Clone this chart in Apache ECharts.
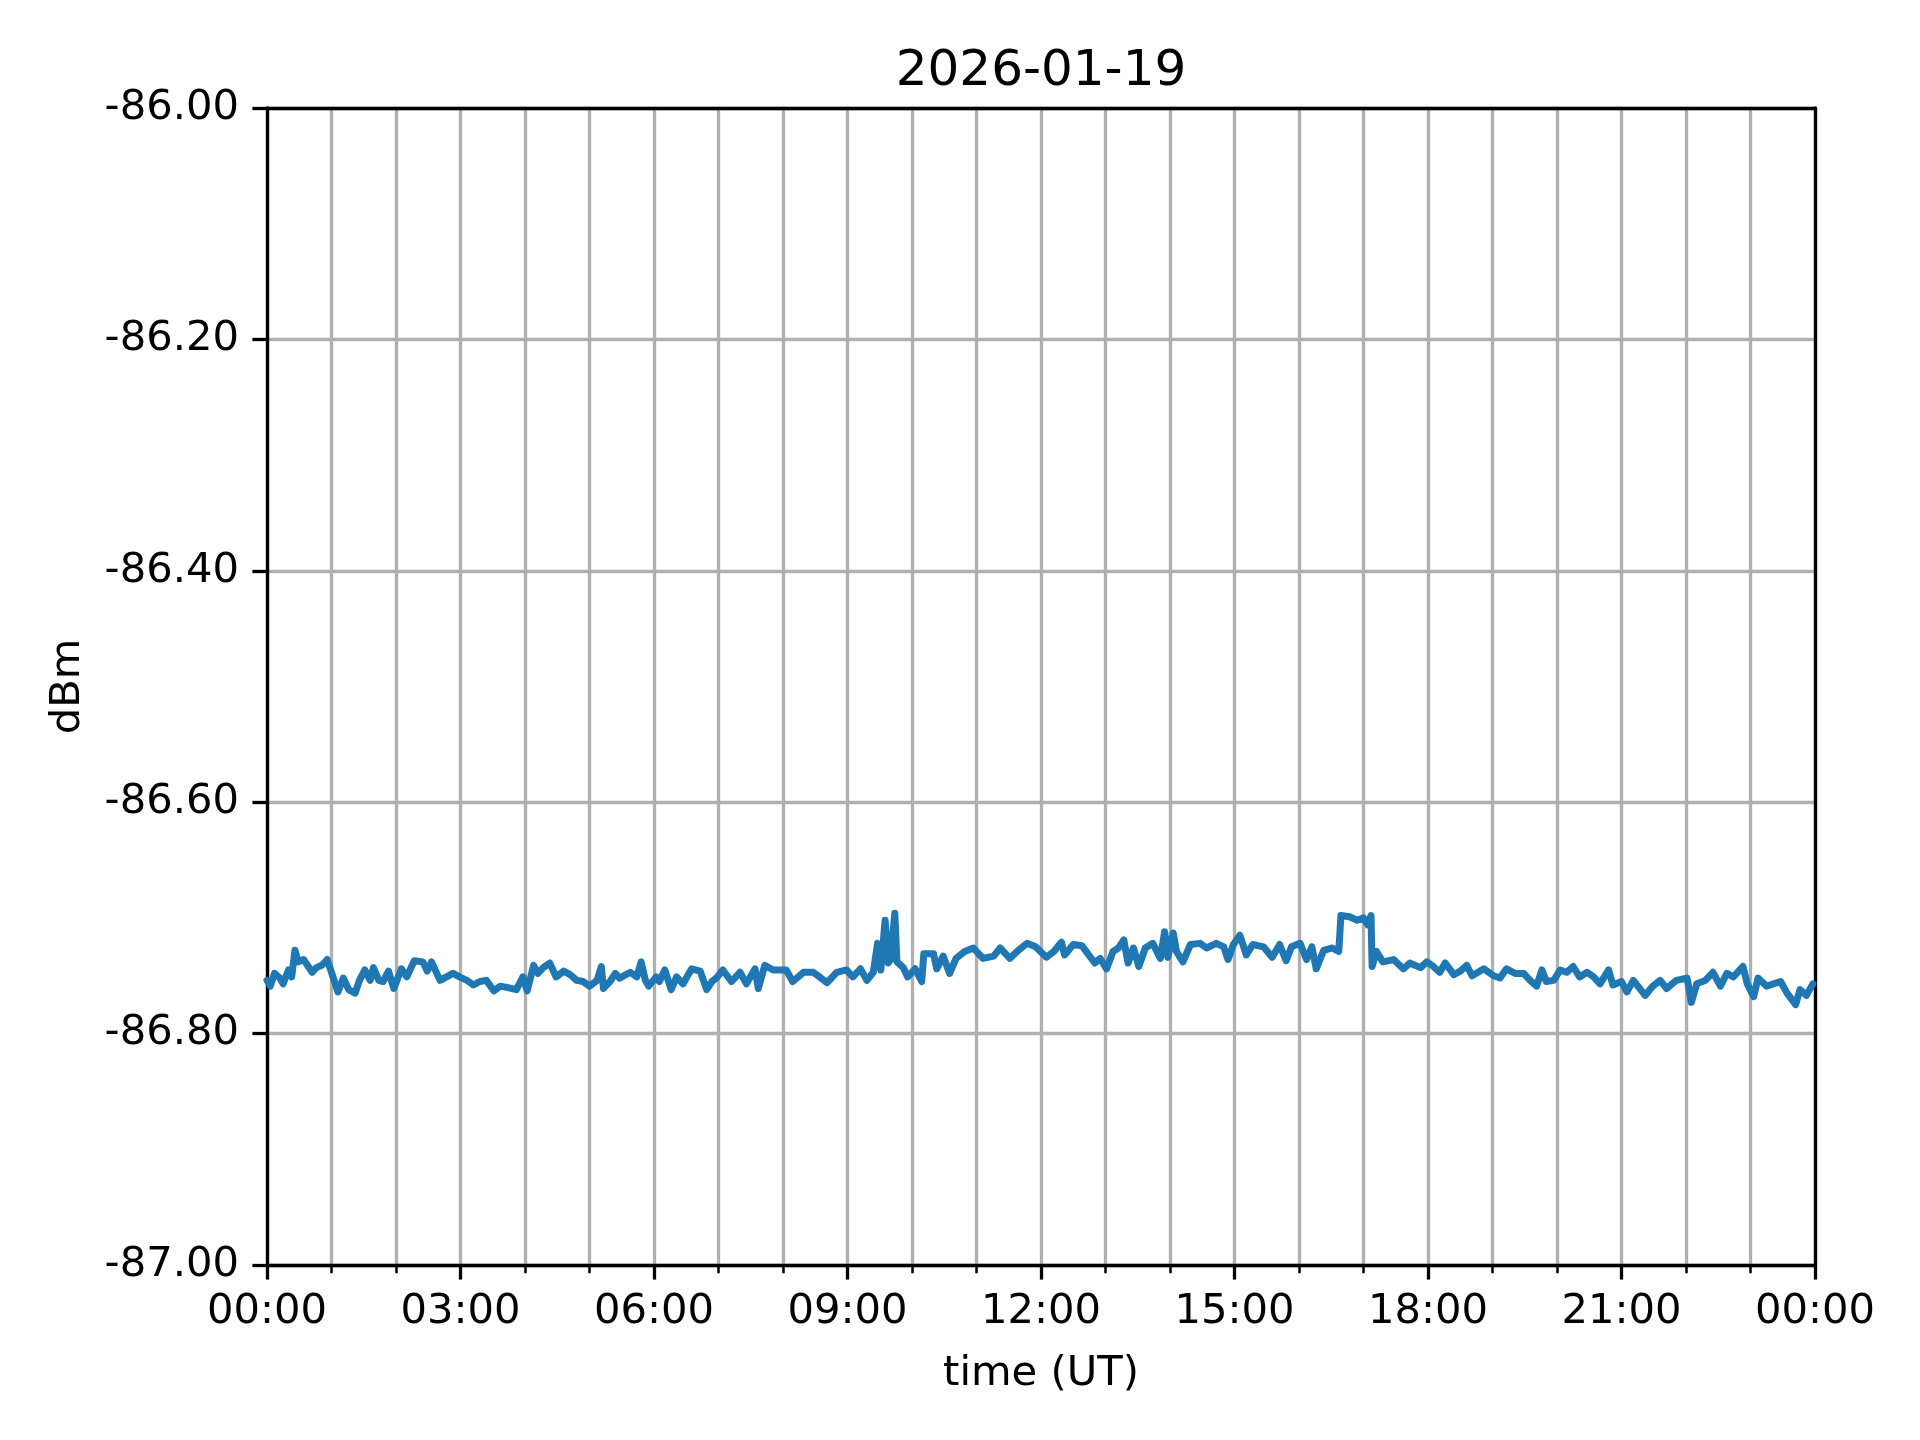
<!DOCTYPE html>
<html>
<head>
<meta charset="utf-8">
<script src="https://cdn.jsdelivr.net/npm/echarts@6/dist/echarts.min.js"></script>
<style>html,body{margin:0;padding:0;background:#fff}#c{width:1920px;height:1440px}</style>
</head>
<body>
<div id="c"></div>
<script>
const titleText = "2026-01-19";
const xName = "time (UT)";
const yName = "dBm";
const yTicks = [-87.0, -86.8, -86.6, -86.4, -86.2, -86.0];
const xTickLabels = ["00:00","03:00","06:00","09:00","12:00","15:00","18:00","21:00","00:00"];

const times = [
"00:00","00:03","00:07","00:12","00:15","00:20","00:23","00:26","00:29","00:34","00:42","00:46","00:51","00:56",
"01:00","01:06","01:11","01:16","01:22","01:26","01:31","01:36","01:39","01:44","01:48","01:53","01:58",
"02:05","02:10","02:17","02:25","02:29","02:33","02:41","02:47","02:53","02:59",
"03:06","03:12","03:18","03:24","03:31","03:37","03:43","03:52","03:58",
"04:02","04:08","04:12","04:17","04:23","04:29","04:36","04:42","04:48","04:54",
"05:00","05:07","05:11","05:13","05:19","05:24","05:28","05:38","05:44","05:48","05:52","05:55",
"06:02","06:05","06:10","06:16","06:21","06:27","06:35","06:43","06:49","06:54","06:58",
"07:04","07:12","07:20","07:26","07:34","07:37","07:43","07:51",
"08:03","08:09","08:19","08:28","08:34","08:41","08:50","08:59",
"09:05","09:12","09:18","09:24","09:28","09:31","09:35","09:38","09:40","09:44","09:46","09:52","09:56",
"10:03","10:09","10:11","10:20","10:23","10:29","10:35","10:41","10:49","10:57",
"11:06","11:16","11:22","11:31","11:39","11:47","11:55",
"12:05","12:12","12:19","12:22","12:30","12:38","12:46","12:50","12:55",
"13:01","13:07","13:12","13:17","13:21","13:26","13:31","13:37","13:44","13:51","13:55","13:58",
"14:03","14:06","14:12","14:19","14:28","14:34","14:43","14:50","14:54","14:59",
"15:05","15:11","15:17","15:27","15:35","15:42","15:48","15:53",
"16:01","16:07","16:12","16:16","16:23","16:31","16:37","16:39","16:47","16:54",
"17:00","17:04","17:07","17:08","17:12","17:18","17:28","17:37","17:43","17:53","17:59",
"18:05","18:11","18:16","18:24","18:30","18:36","18:41","18:52",
"19:01","19:07","19:13","19:21","19:29","19:35","19:41","19:46","19:50","19:57",
"20:03","20:09","20:15","20:21","20:28","20:34","20:40","20:48","20:52",
"21:00","21:05","21:11","21:22","21:29","21:36","21:42","21:51",
"22:01","22:05","22:10","22:18","22:25","22:32","22:38","22:44","22:53","22:57",
"23:03","23:07","23:15","23:28","23:34","23:42","23:46","23:52","23:58"
];
const dbm = [
-86.754,-86.759,-86.748,-86.752,-86.757,-86.745,-86.751,-86.728,-86.738,-86.736,-86.747,-86.743,-86.741,-86.736,
-86.747,-86.764,-86.752,-86.762,-86.765,-86.754,-86.745,-86.754,-86.743,-86.754,-86.755,-86.746,-86.761,
-86.744,-86.751,-86.737,-86.738,-86.746,-86.738,-86.754,-86.751,-86.748,-86.751,
-86.754,-86.758,-86.755,-86.754,-86.763,-86.759,-86.760,-86.762,-86.751,
-86.763,-86.741,-86.748,-86.743,-86.739,-86.751,-86.746,-86.749,-86.754,-86.755,
-86.759,-86.754,-86.742,-86.761,-86.755,-86.748,-86.752,-86.747,-86.751,-86.738,-86.754,-86.759,
-86.751,-86.755,-86.745,-86.762,-86.751,-86.757,-86.744,-86.746,-86.762,-86.755,-86.752,
-86.745,-86.755,-86.747,-86.757,-86.744,-86.761,-86.741,-86.745,
-86.745,-86.755,-86.747,-86.747,-86.751,-86.756,-86.747,-86.745,
-86.751,-86.744,-86.754,-86.747,-86.722,-86.745,-86.702,-86.739,-86.736,-86.696,-86.738,-86.743,-86.751,
-86.744,-86.755,-86.731,-86.731,-86.744,-86.733,-86.748,-86.735,-86.729,-86.726,
-86.735,-86.733,-86.726,-86.735,-86.728,-86.722,-86.725,
-86.734,-86.729,-86.721,-86.732,-86.723,-86.724,-86.734,-86.739,-86.735,
-86.744,-86.729,-86.726,-86.719,-86.739,-86.726,-86.742,-86.726,-86.722,-86.735,-86.712,-86.734,
-86.713,-86.729,-86.738,-86.723,-86.722,-86.726,-86.722,-86.725,-86.736,-86.723,
-86.715,-86.732,-86.723,-86.725,-86.734,-86.723,-86.737,-86.725,
-86.722,-86.736,-86.725,-86.744,-86.728,-86.726,-86.729,-86.698,-86.699,-86.702,
-86.700,-86.706,-86.698,-86.742,-86.729,-86.738,-86.736,-86.744,-86.739,-86.743,-86.738,
-86.742,-86.747,-86.739,-86.749,-86.746,-86.741,-86.750,-86.744,
-86.750,-86.752,-86.744,-86.748,-86.748,-86.754,-86.759,-86.745,-86.755,-86.754,
-86.745,-86.747,-86.742,-86.751,-86.747,-86.751,-86.757,-86.745,-86.758,
-86.755,-86.764,-86.754,-86.767,-86.759,-86.754,-86.761,-86.754,
-86.752,-86.773,-86.757,-86.754,-86.747,-86.759,-86.748,-86.751,-86.742,-86.757,
-86.768,-86.752,-86.759,-86.755,-86.765,-86.775,-86.762,-86.767,-86.757
];

function toHours(s){ const p = s.split(":"); return (+p[0]) + (+p[1]) / 60; }
const seriesData = times.map((t, i) => [toHours(t), dbm[i]]);

const FONT = "DejaVu Sans";
const FS = 41.7;
const GRID = {color: "#b0b0b0", width: 3.3};
const chart = echarts.init(document.getElementById("c"), null, {renderer: "canvas"});
chart.setOption({
  animation: false,
  backgroundColor: "#ffffff",
  textStyle: {fontFamily: FONT},
  title: {
    text: titleText, left: 1036, top: 42, textAlign: "center",
    textStyle: {fontFamily: FONT, fontSize: 50, fontWeight: "normal", color: "#000"}
  },
  grid: {left: 267, right: 105, top: 108, bottom: 175, containLabel: false},
  xAxis: [{
    type: "value", min: 0, max: 24, interval: 3,
    name: xName, nameLocation: "middle", nameGap: 88,
    nameTextStyle: {fontFamily: FONT, fontSize: FS, color: "#000"},
    axisLine: {show: true, onZero: false, lineStyle: {color: "#000", width: 3.3}},
    axisTick: {show: true, inside: false, length: 14.6, lineStyle: {color: "#000", width: 3.3}},
    minorTick: {show: true, splitNumber: 3, length: 8.3, lineStyle: {color: "#000", width: 2.5}},
    axisLabel: {
      show: true, margin: 26, color: "#000", fontFamily: FONT, fontSize: FS,
      formatter: v => xTickLabels[Math.round(v / 3)]
    },
    splitLine: {show: true, lineStyle: GRID},
    minorSplitLine: {show: true, lineStyle: GRID}
  }, {
    type: "value", min: 0, max: 24, position: "top",
    axisLine: {show: true, onZero: false, lineStyle: {color: "#000", width: 3.3}},
    axisTick: {show: false}, axisLabel: {show: false}, splitLine: {show: false}
  }],
  yAxis: [{
    type: "value", min: yTicks[0], max: yTicks[yTicks.length - 1], interval: 0.2,
    name: yName, nameLocation: "middle", nameGap: 178, nameRotate: 90,
    nameTextStyle: {fontFamily: FONT, fontSize: FS, color: "#000"},
    axisLine: {show: true, onZero: false, lineStyle: {color: "#000", width: 3.3}},
    axisTick: {show: true, inside: false, length: 14.6, lineStyle: {color: "#000", width: 3.3}},
    axisLabel: {
      show: true, margin: 28, color: "#000", fontFamily: FONT, fontSize: FS,
      formatter: v => v.toFixed(2)
    },
    splitLine: {show: true, lineStyle: GRID}
  }, {
    type: "value", min: yTicks[0], max: yTicks[yTicks.length - 1], position: "right",
    axisLine: {show: true, onZero: false, lineStyle: {color: "#000", width: 3.3}},
    axisTick: {show: false}, axisLabel: {show: false}, splitLine: {show: false}
  }],
  series: [{
    type: "line", data: seriesData, xAxisIndex: 0, yAxisIndex: 0,
    showSymbol: false, symbol: "none", smooth: false,
    lineStyle: {color: "#1f77b4", width: 7, join: "round", cap: "round"},
    z: 5
  }]
});
</script>
</body>
</html>
